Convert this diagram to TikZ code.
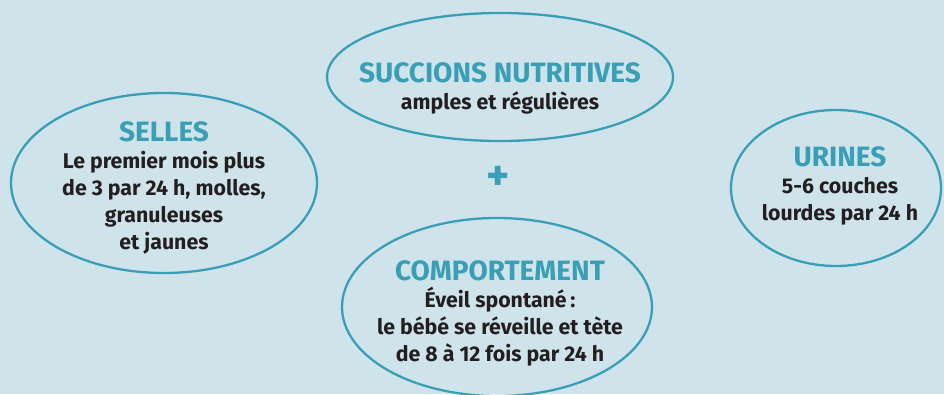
\documentclass[tikz,border=0pt]{standalone}
\usepackage{fontspec}
\setmainfont{Fira Sans}
\usetikzlibrary{shapes.geometric}
\definecolor{bg}{HTML}{CFE3EA}
\definecolor{teal}{HTML}{3A9FB6}
\definecolor{ink}{HTML}{231F20}
\tikzset{
  bubble/.style={ellipse, draw=teal, line width=2.3pt, inner sep=0pt},
  txt/.style={align=center, text=ink, inner sep=0pt,
    font=\fontsize{21.3}{27}\selectfont\bfseries},
}
\newcommand{\hd}[1]{{\color{teal}\fontsize{28}{27}\selectfont #1}}
\begin{document}
\begin{tikzpicture}[x=1pt,y=-1pt]
\fill[bg] (0,0) rectangle (944,394);
\useasboundingbox (0,0) rectangle (944,394);
\node[bubble, minimum width=346pt, minimum height=128pt] (suc) at (500,77) {};
\node[bubble, minimum width=306pt, minimum height=180pt] (sel) at (164,183) {};
\node[bubble, minimum width=210pt, minimum height=156pt] (uri) at (836,188) {};
\node[bubble, minimum width=310pt, minimum height=178pt] (com) at (497,307) {};
\node[txt] (tsuc) at (500,88) {\hd{SUCCIONS NUTRITIVES}\\amples et régulières};
\node[txt] (tsel) at (164,188) {\hd{SELLES}\\Le premier mois plus\\de 3 par 24 h, molles,\\granuleuses\\et jaunes};
\node[txt] (turi) at (840,186) {\hd{URINES}\\5-6 couches\\lourdes par 24 h};
\node[txt] (tcom) at (500,313) {\hd{COMPORTEMENT}\\Éveil spontané\,:\\le bébé se réveille et tète\\de 8 à 12 fois par 24 h};
\node[text=teal, font=\fontsize{44}{44}\selectfont\bfseries, inner sep=0pt] (plus) at (498,178) {+};
\end{tikzpicture}
\end{document}
